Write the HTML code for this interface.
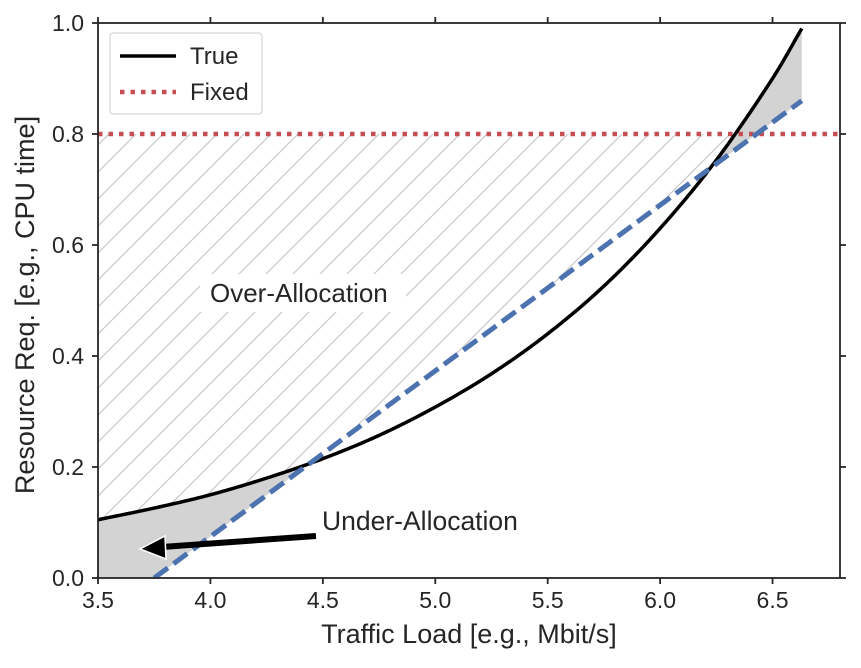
<!DOCTYPE html>
<html><head><meta charset="utf-8"><style>
body{margin:0;background:#fff;}
svg text{font-family:"Liberation Sans",sans-serif;fill:#262626;}
</style></head><body>
<svg id="chart" width="861" height="663" xmlns="http://www.w3.org/2000/svg">
<defs>
<pattern id="hatch" patternUnits="userSpaceOnUse" width="27" height="27">
<path d="M-2,29 L29,-2 M-2,2 L2,-2 M25,29 L29,25" stroke="#c8c8c8" stroke-width="1.2"/>
</pattern>
<clipPath id="plotclip"><rect x="98" y="23" width="742" height="555"/></clipPath>
</defs>
<g id="plot" clip-path="url(#plotclip)"></g>
<g id="axes"></g>
</svg>
<script>
const trueX = [3.5,3.75,4.0,4.25,4.5,4.75,5.0,5.25,5.5,5.75,6.0,6.25,6.5,6.63];
const trueY = [0.105,0.126,0.150,0.180,0.215,0.257,0.308,0.368,0.440,0.526,0.630,0.753,0.900,0.99];
const fitX = [3.75,6.63];
const fitY = [0.0,0.86];
const fixedY = 0.8;
const xTicks = [3.5,4.0,4.5,5.0,5.5,6.0,6.5];
const yTicks = [0.0,0.2,0.4,0.6,0.8,1.0];
const xMin=3.5,xMax=6.8,yMin=0,yMax=1;
const L=98,R=840,T=23,B=578;
const sx=v=>L+(v-xMin)/(xMax-xMin)*(R-L);
const sy=v=>B-(v-yMin)/(yMax-yMin)*(B-T);
const NS='http://www.w3.org/2000/svg';
function mk(tag,attrs,parent){const e=document.createElementNS(NS,tag);for(const k in attrs)e.setAttribute(k,attrs[k]);parent.appendChild(e);return e;}
function smooth(xs,ys,x){
  let i=0;while(i<xs.length-2&&x>xs[i+1])i++;
  const x0=xs[i],x1=xs[i+1];const t=Math.max(0,Math.min(1,(x-x0)/(x1-x0)));
  const y0=ys[i],y1=ys[i+1];
  const ym=i>0?ys[i-1]:y0-(y1-y0),yp=i+2<ys.length?ys[i+2]:y1+(y1-y0);
  const xm=i>0?xs[i-1]:x0-(x1-x0),xp=i+2<xs.length?xs[i+2]:x1+(x1-x0);
  const m0=(y1-ym)/(x1-xm)*(x1-x0),m1=(yp-y0)/(xp-x0)*(x1-x0);
  const t2=t*t,t3=t2*t;
  return (2*t3-3*t2+1)*y0+(t3-2*t2+t)*m0+(-2*t3+3*t2)*y1+(t3-t2)*m1;
}
const fitAt=x=>fitY[0]+(x-fitX[0])*(fitY[1]-fitY[0])/(fitX[1]-fitX[0]);
const plot=document.getElementById('plot'),axes=document.getElementById('axes');
const xEnd=trueX[trueX.length-1];
const N=300,xs=[];for(let i=0;i<=N;i++)xs.push(xMin+(xEnd-xMin)*i/N);
let p1='',p2='';
xs.forEach(x=>{const t=smooth(trueX,trueY,x),f=Math.max(0,fitAt(x));const lo=Math.min(f,t);p1+=`${sx(x)},${sy(t)} `;p2=`${sx(x)},${sy(lo)} `+p2;});
const under=mk('polygon',{points:p1+p2,fill:'#d3d3d3'},plot);


let h1='',h2='';
xs.forEach(x=>{const t=smooth(trueX,trueY,x),f=Math.max(0,fitAt(x));const lo=Math.min(fixedY,Math.max(t,f));h1+=`${sx(x)},${sy(fixedY)} `;h2=`${sx(x)},${sy(lo)} `+h2;});
const over=mk('polygon',{points:h1+h2,fill:'url(#hatch)'},plot);


const fl=mk('line',{x1:L,x2:R,y1:sy(fixedY),y2:sy(fixedY),stroke:'#c44e52','stroke-width':4.5,'stroke-dasharray':'4.5,6'},plot);


const tl=mk('polyline',{points:xs.map(x=>`${sx(x)},${sy(smooth(trueX,trueY,x))}`).join(' '),fill:'none',stroke:'#000','stroke-width':3.5},plot);


const fit=mk('line',{x1:sx(fitX[0]),y1:sy(fitY[0]),x2:sx(fitX[1]),y2:sy(fitY[1]),stroke:'#4c72b0','stroke-width':5,'stroke-dasharray':'17,7'},plot);


const fr=mk('rect',{x:L,y:T,width:R-L,height:B-T,fill:'none',stroke:'#262626','stroke-width':1.8},axes);


xTicks.forEach(v=>{const x=sx(v);
mk('line',{x1:x,x2:x,y1:B,y2:B+6,stroke:'#262626','stroke-width':1.8},axes);
mk('line',{x1:x,x2:x,y1:T,y2:T-6,stroke:'#262626','stroke-width':1.8},axes);
const t=mk('text',{x:x,y:B+30,'text-anchor':'middle','font-size':23},axes);t.textContent=v.toFixed(1);

});
yTicks.forEach(v=>{const y=sy(v);
mk('line',{x1:L,x2:L-6,y1:y,y2:y,stroke:'#262626','stroke-width':1.8},axes);
mk('line',{x1:R,x2:R+6,y1:y,y2:y,stroke:'#262626','stroke-width':1.8},axes);
const t=mk('text',{x:L-14,y:y+8,'text-anchor':'end','font-size':23},axes);t.textContent=v.toFixed(1);

});
</script>
<svg style="position:absolute;left:0;top:0" width="861" height="663">
<text x="469" y="643" text-anchor="middle" font-size="27">Traffic Load [e.g., Mbit/s]</text>
<text transform="translate(34,305) rotate(-90)" text-anchor="middle" font-size="27">Resource Req. [e.g., CPU time]</text>
<rect x="200" y="274" width="206" height="38" fill="#fff"/>
<text x="210" y="302" font-size="26">Over-Allocation</text>
<text x="322" y="530" font-size="26.5">Under-Allocation</text>
<g>
<line x1="316" y1="536" x2="162" y2="547" stroke="#000" stroke-width="6"/>
<polygon points="140,549 165,536 166,559" fill="#000" stroke="#fff" stroke-width="1.5"/>
</g>
<g>
<rect x="110" y="33" width="152" height="81" rx="3" fill="#fff" stroke="#ccc"/>
<line x1="120" y1="56" x2="176" y2="56" stroke="#000" stroke-width="3.5"/>
<text x="190" y="64" font-size="24">True</text>
<line x1="120" y1="92" x2="176" y2="92" stroke="#c44e52" stroke-width="4.5" stroke-dasharray="4.5,6"/>
<text x="190" y="100" font-size="24">Fixed</text>
</g>
</svg>
</body></html>
